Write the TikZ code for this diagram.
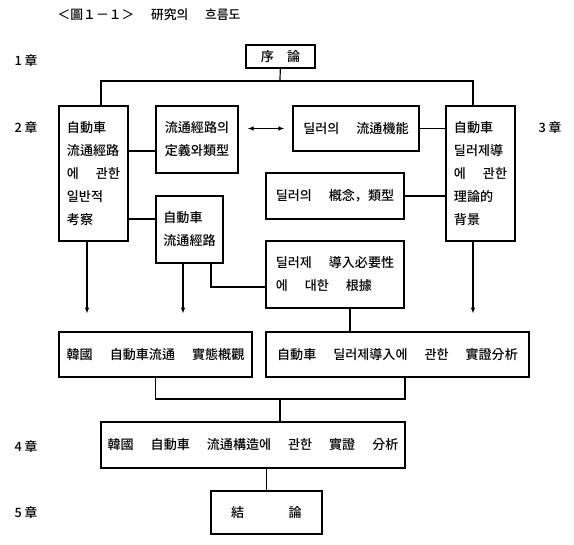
\documentclass[tikz,border=0pt]{standalone}
\usepackage{fontspec}
\setmainfont{Noto Sans CJK KR}[UprightFont={* Medium}]
\usetikzlibrary{arrows.meta}
\newcommand{\wsp}{\hspace{1.3em}}

\begin{document}
\begin{tikzpicture}[x=0.75pt,y=-0.75pt,>={Latex[length=4.5pt,width=3.5pt]},line width=0.9pt,
  stagebox/.style={draw,inner sep=0pt,align=left,font=\fontsize{9.8}{17.25}\selectfont},
  chap/.style={font=\fontsize{9.6}{12}\selectfont}]
\useasboundingbox (0,0) rectangle (574,544);
% title and chapter marks
\node[chap] (title) at (149,15) {＜圖１－１＞\wsp 研究의\wsp 흐름도};
\node[chap] (ch1) at (26,61) {1 章};
\node[chap] (ch2) at (26,128) {2 章};
\node[chap] (ch3) at (550,128) {3 章};
\node[chap] (ch4) at (26,447) {4 章};
\node[chap] (ch5) at (26,513) {5 章};
% boxes
\node[stagebox,minimum width=51.75pt,minimum height=17.25pt] (intro) at (280.5,56.5) {序\hspace{1em}論};
\node[stagebox,minimum width=51.75pt,minimum height=101.25pt] (gen) at (93.5,173.5) {自動車\\流通經路\\에\wsp 관한\\일반적\\考察};
\node[stagebox,minimum width=61.5pt,minimum height=50.25pt] (defn) at (197,139.5) {流通經路의\\定義와類型};
\node[stagebox,minimum width=94.5pt,minimum height=33.75pt] (func) at (356,128.5) {딜러의\wsp 流通機能};
\node[stagebox,minimum width=51.75pt,minimum height=101.25pt] (theory) at (480.5,173.5) {自動車\\딜러제導\\에\wsp 관한\\理論的\\背景};
\node[stagebox,minimum width=103.5pt,minimum height=34.5pt] (concept) at (335,196) {딜러의\wsp 槪念，類型};
\node[stagebox,minimum width=50.25pt,minimum height=50.25pt] (route) at (189.5,229.5) {自動車\\流通經路};
\node[stagebox,minimum width=103.5pt,minimum height=50.25pt] (need) at (335,274.5) {딜러제\wsp 導入必要性\\에\wsp 대한\wsp 根據};
\node[stagebox,minimum width=144.75pt,minimum height=33.75pt] (surv) at (155.5,354.5) {韓國\wsp 自動車流通\wsp 實態槪觀};
\node[stagebox,minimum width=197.25pt,minimum height=33.75pt] (anal) at (397.5,354.5) {自動車\wsp 딜러제導入에\wsp 관한\wsp 實證分析};
\node[stagebox,minimum width=228pt,minimum height=34.5pt] (struct) at (253,445) {韓國\wsp 自動車\wsp 流通構造에\wsp 관한\wsp 實證\wsp 分析};
\node[stagebox,minimum width=83.25pt,minimum height=32.25pt] (concl) at (266.5,512.5) {結\hspace{3.4em}論};
% connectors
\coordinate (split) at (280,81);
\draw (intro) -- (split);
\draw (gen.north -| 101,0) |- (split) -| (theory.north -| 473,0);
\draw (gen.east |- 0,151) -- (defn.west |- 0,151);
\draw[<->,shorten <=6.75pt,shorten >=6pt] (defn.east |- func) -- (func.west);
\draw (func) -- (theory.west |- func);
\draw (concept) -- (theory.west |- concept);
\draw (gen.east |- 0,219) -- (route.west |- 0,219);
\draw (route.south -| 211,0) |- (need.west |- 0,287);
\draw[->] (gen.south -| 87,0) -- ++(0,72);
\draw[->] (route.south -| 183,0) -- ++(0,50);
\draw[->] (theory.south -| 473,0) -- ++(0,72);
\draw (need.south -| 350,0) -- (anal.north -| 350,0);
\coordinate (join) at (280,399);
\draw (surv.south) |- (join) -| (anal.south -| 405,0);
\draw (join) -- (join |- struct.north);
\draw (concl.north) -- (concl.north |- struct.south);
\end{tikzpicture}
\end{document}
